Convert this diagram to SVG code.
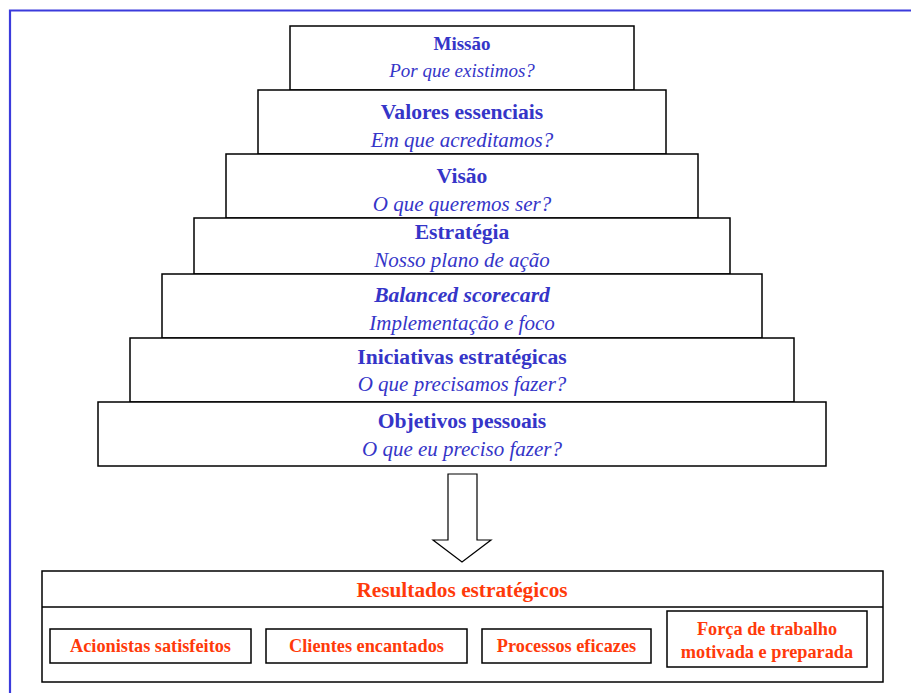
<svg xmlns="http://www.w3.org/2000/svg" width="911" height="693" viewBox="0 0 911 693">
<style>
.frame{fill:none;stroke:#3b3bdc;stroke-width:2.2}
.box{fill:#fff;stroke:#000;stroke-width:1.5}
.t{font-family:"Liberation Serif","Times New Roman",serif;text-anchor:middle;fill:#3535c8}
.b{font-weight:bold;font-size:21.6px}
.i{font-style:italic;font-size:21px}
.o{font-family:"Liberation Serif","Times New Roman",serif;text-anchor:middle;fill:#ff3a0a;font-weight:bold}
</style>
<rect width="911" height="693" fill="#fff"/>
<path class="frame" d="M10,700 V10.5 H920"/>
<g id="missao"><rect class="box" x="290" y="26" width="344" height="64"/>
<text class="t" x="462" y="50" font-weight="bold" font-size="19">Missão</text>
<text class="t" x="462" y="77" font-style="italic" font-size="19">Por que existimos?</text></g>
<g id="valores"><rect class="box" x="258" y="90" width="408" height="64"/>
<text class="t b" x="462" y="119">Valores essenciais</text>
<text class="t i" x="462" y="147">Em que acreditamos?</text></g>
<g id="visao"><rect class="box" x="226" y="154" width="472" height="64"/>
<text class="t b" x="462" y="183">Visão</text>
<text class="t i" x="462" y="211">O que queremos ser?</text></g>
<g id="estrategia"><rect class="box" x="194" y="218" width="536" height="56"/>
<text class="t b" x="462" y="239">Estratégia</text>
<text class="t i" x="462" y="267">Nosso plano de ação</text></g>
<g id="balanced"><rect class="box" x="162" y="274" width="600" height="64"/>
<text class="t b" x="462" y="302" font-style="italic">Balanced scorecard</text>
<text class="t i" x="462" y="330">Implementação e foco</text></g>
<g id="iniciativas"><rect class="box" x="130" y="338" width="664" height="64"/>
<text class="t b" x="462" y="364">Iniciativas estratégicas</text>
<text class="t i" x="462" y="391">O que precisamos fazer?</text></g>
<g id="objetivos"><rect class="box" x="98" y="402" width="728" height="64"/>
<text class="t b" x="462" y="428">Objetivos pessoais</text>
<text class="t i" x="462" y="456">O que eu preciso fazer?</text></g>
<g id="connectors">
<path d="M448,474 H477 V540 H491 L462,562 L433,540 H448 Z" fill="#fff" stroke="#000" stroke-width="1.2"/>
</g>
<g id="resultados">
<rect class="box" x="42" y="571" width="841" height="111"/>
<line x1="42" y1="607" x2="883" y2="607" stroke="#000" stroke-width="1.5"/>
<text class="o" x="462" y="597" font-size="21.3">Resultados estratégicos</text>
</g>
<g id="acionistas"><rect class="box" x="50" y="629" width="201" height="34"/>
<text class="o" x="150.5" y="652" font-size="18.3">Acionistas satisfeitos</text></g>
<g id="clientes"><rect class="box" x="266" y="629" width="201" height="34"/>
<text class="o" x="366.5" y="652" font-size="18.3">Clientes encantados</text></g>
<g id="processos"><rect class="box" x="482" y="629" width="169" height="34"/>
<text class="o" x="566.5" y="652" font-size="18.3">Processos eficazes</text></g>
<g id="forca"><rect class="box" x="667" y="611" width="200" height="56"/>
<text class="o" x="767" y="635" font-size="18.3">Força de trabalho</text>
<text class="o" x="767" y="658" font-size="18.3">motivada e preparada</text></g>
</svg>
